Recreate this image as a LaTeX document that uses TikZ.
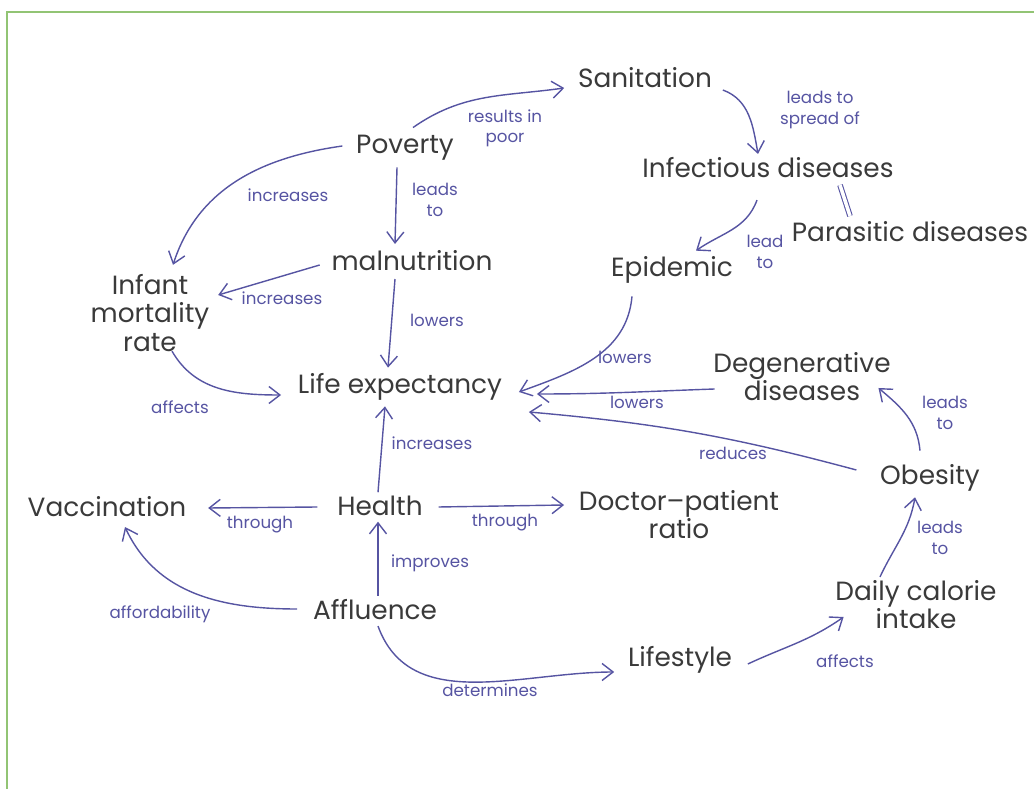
\documentclass[tikz,border=0pt]{standalone}
\usepackage{fontspec}
\setmainfont{Poppins}
\usepackage{tikz}
\usetikzlibrary{
  arrows.meta,
  positioning,
  calc
}
\definecolor{inkgray}{RGB}{58,58,58}
\definecolor{inkblue}{RGB}{86,84,162}
\definecolor{framegreen}{RGB}{146,196,116}
\tikzset{
  concept/.style={
    text=inkgray, align=center, inner sep=2pt,
    font=\fontsize{15}{16}\selectfont
  },
  note/.style={
    text=inkblue, align=center, inner sep=1pt,
    font=\fontsize{9.5}{11.5}\selectfont
  },
  arrow/.style={-{Straight Barb[length=2.2mm, width=3.4mm]}, inkblue, line width=0.8pt},
  link/.style={inkblue, line width=0.6pt},
  frame/.style={framegreen, line width=1.2pt}
}

\begin{document}
\begin{tikzpicture}[x=0.02cm, y=0.02cm]

\useasboundingbox (0,0) rectangle (1034,788);
\begin{scope}
  \clip (0,0) rectangle (1034,788);
  \draw[frame] (7,-20) rectangle (1060,776);
\end{scope}

% Concepts
\node[concept] (sanitation) at (645,710) {Sanitation};
\node[concept] (poverty) at (405,640) {Poverty};
\node[concept] (infectious) at (768,620) {Infectious diseases};
\node[concept] (parasitic) at (910,556) {Parasitic diseases};
\node[concept] (malnutrition) at (412,527) {malnutrition};
\node[concept] (epidemic) at (672,518) {Epidemic};
\node[concept] (infant) at (150,475) {Infant\\mortality\\rate};
\node[concept] (life) at (400,401) {Life expectancy};
\node[concept] (degen) at (802,411) {Degenerative\\diseases};
\node[concept] (obesity) at (930,310) {Obesity};
\node[concept] (vaccination) at (107,281) {Vaccination};
\node[concept] (health) at (380,282) {Health};
\node[concept] (doctor) at (679,273) {Doctor--patient\\ratio};
\node[concept] (daily) at (916,183) {Daily calorie\\intake};
\node[concept] (affluence) at (375,178) {Affluence};
\node[concept] (lifestyle) at (680,128) {Lifestyle};

% Poverty and sanitation
\draw[arrow] ($(poverty.north)+(8,4)$) to[out=35,in=188]
  ($(sanitation.west)+(-10,-10)$);
\node[note] (n1) at (505,660) {results in\\poor};
\draw[arrow] ($(sanitation.east)+(7,-12)$) to[out=-20,in=100]
  ($(infectious.north)+(-10,0)$);
\node[note] (n2) at (820,678) {leads to\\spread of};
\draw[arrow] ($(infectious.south)+(-11,-18)$) to[out=-110,in=35]
  ($(epidemic.north)+(24,2)$);
\node[note] (n3) at (765,536) {lead\\to};
\draw[link, double, double distance=2pt] ($(infectious.south)+(72,-3)$) --
  ($(parasitic.north)+(-60,2)$);

% Poverty and malnutrition
\draw[arrow] ($(poverty.west)+(-10,2)$) to[out=188,in=72]
  ($(infant.north)+(23,6)$);
\node[note] (n4) at (288,593) {increases};
\draw[arrow] ($(poverty.south)+(-8,-3)$) -- ($(malnutrition.north)+(-17,3)$);
\node[note] (n5) at (435,588) {leads\\to};
\draw[arrow] ($(malnutrition.west)+(-8,-4)$) -- ($(infant.east)+(5,18)$);
\node[note] (n6) at (282,490) {increases};
\draw[arrow] ($(malnutrition.south)+(-17,-4)$) -- ($(life.north)+(-12,2)$);
\node[note] (n7) at (437,468) {lowers};

% Into life expectancy
\draw[arrow] ($(epidemic.south)+(-40,-9)$) to[out=-95,in=20]
  ($(life.east)+(13,-5)$);
\node[note] (n8) at (625,431) {lowers};
\draw[arrow] ($(degen.west)+(5,-12)$) to[out=182,in=0]
  ($(life.east)+(31,-7)$);
\node[note] (n9) at (637,386) {lowers};
\draw[arrow] ($(obesity.west)+(-20,8)$) to[bend right=5]
  ($(life.east)+(23,-25)$);
\node[note] (n10) at (733,335) {reduces};
\draw[arrow] ($(obesity.north)+(-10,10)$) to[out=95,in=-40]
  ($(degen.east)+(-16,-11)$);
\node[note] (n11) at (945,375) {leads\\to};
\draw[arrow] ($(infant.south)+(22,4)$) to[out=-60,in=180]
  ($(life.west)+(-13,-8)$);
\node[note] (n12) at (180,381) {affects};

% Health
\draw[arrow] ($(health.north)+(-2,0)$) -- ($(life.south)+(-15,-2)$);
\node[note] (n13) at (432,345) {increases};
\draw[arrow] ($(health.west)+(-16,-1)$) -- ($(vaccination.east)+(18,-1)$);
\node[note] (n14) at (260,263) {through};
\draw[arrow] ($(health.east)+(12,-1)$) -- ($(doctor.west)+(-11,10)$);
\node[note] (n15) at (505,265) {through};

% Affluence
\draw[arrow] ($(affluence.north)+(3,0)$) -- ($(health.south)+(-2,-2)$);
\node[note] (n16) at (430,225) {improves};
\draw[arrow] ($(affluence.west)+(-12,1)$) to[out=180,in=-65]
  ($(vaccination.south)+(18,-6)$);
\node[note] (n17) at (160,174) {affordability};
\draw[arrow] ($(affluence.south)+(3,-2)$) to[out=-70,in=180]
  ($(lifestyle.west)+(-10,-12)$);
\node[note] (n18) at (490,98) {determines};

% Lifestyle and obesity
\draw[arrow] ($(lifestyle.east)+(12,-4)$) to[out=25,in=215]
  ($(daily.west)+(12,-12)$);
\node[note] (n19) at (845,127) {affects};
\draw[arrow] ($(daily.north)+(-36,0)$) to[out=65,in=-100]
  ($(obesity.south)+(-15,-2)$);
\node[note] (n20) at (940,250) {leads\\to};

\end{tikzpicture}
\end{document}
